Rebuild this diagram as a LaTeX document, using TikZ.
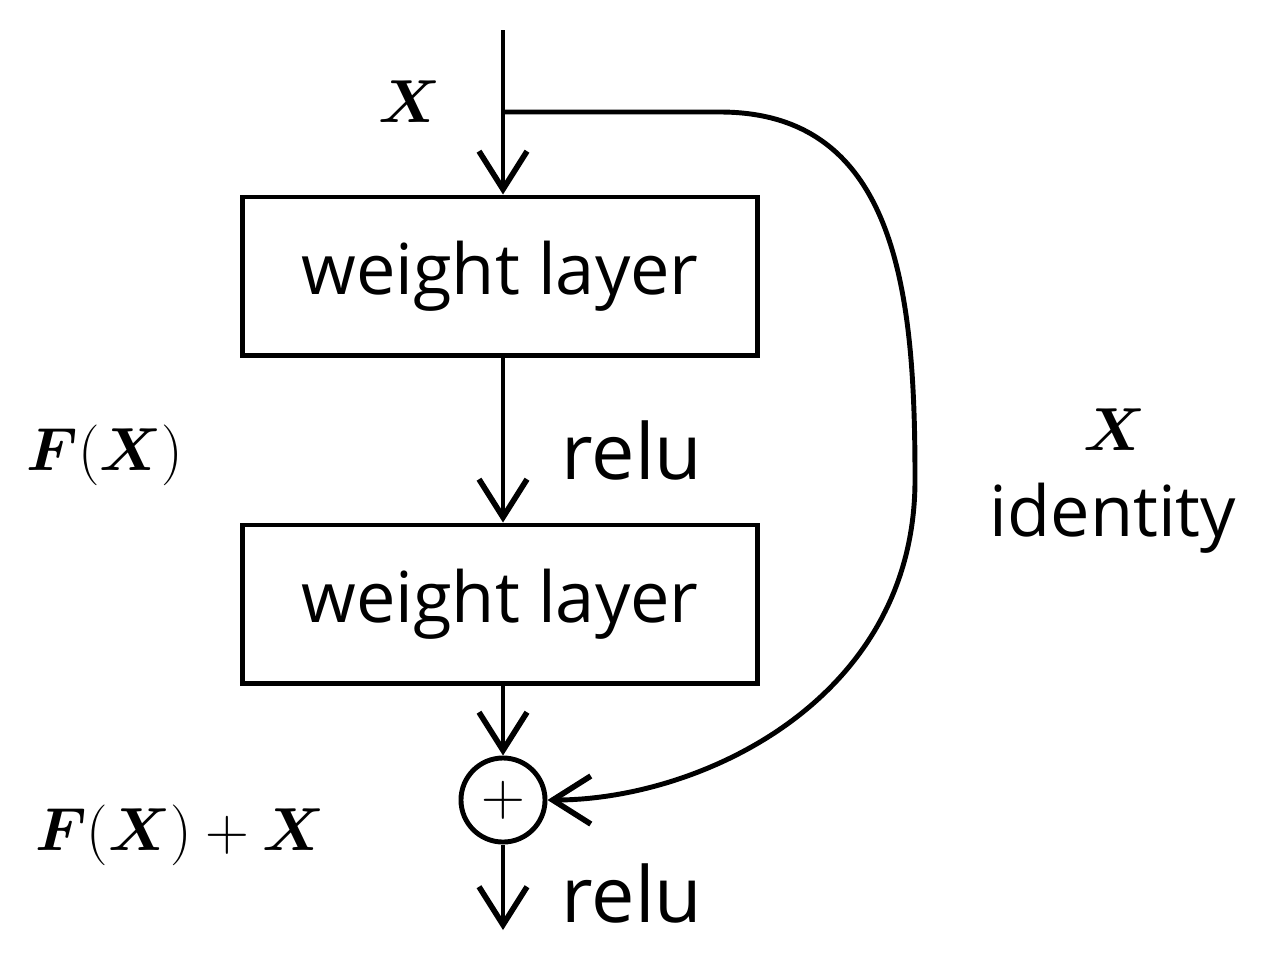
\documentclass[tikz,border=0pt]{standalone}
\usepackage{fontspec}
\usepackage{amsmath,bm}
\newfontfamily\lbl{Open Sans}
\usetikzlibrary{arrows.meta}
\begin{document}
\begin{tikzpicture}[x=0.01cm,y=-0.01cm,
  line width=1.4pt,
  arr/.style={-{Straight Barb[length=3.8mm,width=4.8mm,line width=1.6pt]}},
  layer/.style={draw,minimum width=5.14cm,minimum height=1.58cm,font=\lbl\fontsize{20}{24}\selectfont},
  txt/.style={font=\lbl\fontsize{22}{26}\selectfont},
  mth/.style={font=\fontsize{18.5}{22}\selectfont}]
\useasboundingbox (0,0) rectangle (1261,963);
% nodes
\coordinate (top) at (503,30);
\coordinate (split) at (503,112);
\node[layer] (w1) at (500,276) {weight layer};
\node[layer] (w2) at (500,604) {weight layer};
\node[draw,circle,minimum size=0.84cm,inner sep=0pt,font=\fontsize{18}{22}\selectfont] (add) at (503,800) {$+$};
\coordinate (out) at (503,930);
% connectors
\draw[arr] (top) -- (w1.north -| top);
\draw[arr] (w1.south -| top) -- (w2.north -| top);
\draw[arr] (w2.south -| top) -- (add);
\draw[arr] (add) -- (out);
\draw[arr] (split) -- (720,112) .. controls (900,112) and (915,300) .. (915,480)
  .. controls (915,700) and (700,800) .. (add.east);
% labels
\node[mth] (lx) at (410,102) {$\bm{X}$};
\node[txt] (r1) at (632,450) {relu};
\node[txt] (r2) at (632,893) {relu};
\node[mth] (fx) at (105,455) {$\bm{F}(\bm{X})$};
\node[mth] (fxx) at (180,835) {$\bm{F}(\bm{X})+\bm{X}$};
\node[mth] (ix) at (1115,430) {$\bm{X}$};
\node[txt,font=\lbl\fontsize{20}{24}\selectfont] (id) at (1113,518) {identity};
\end{tikzpicture}
\end{document}
